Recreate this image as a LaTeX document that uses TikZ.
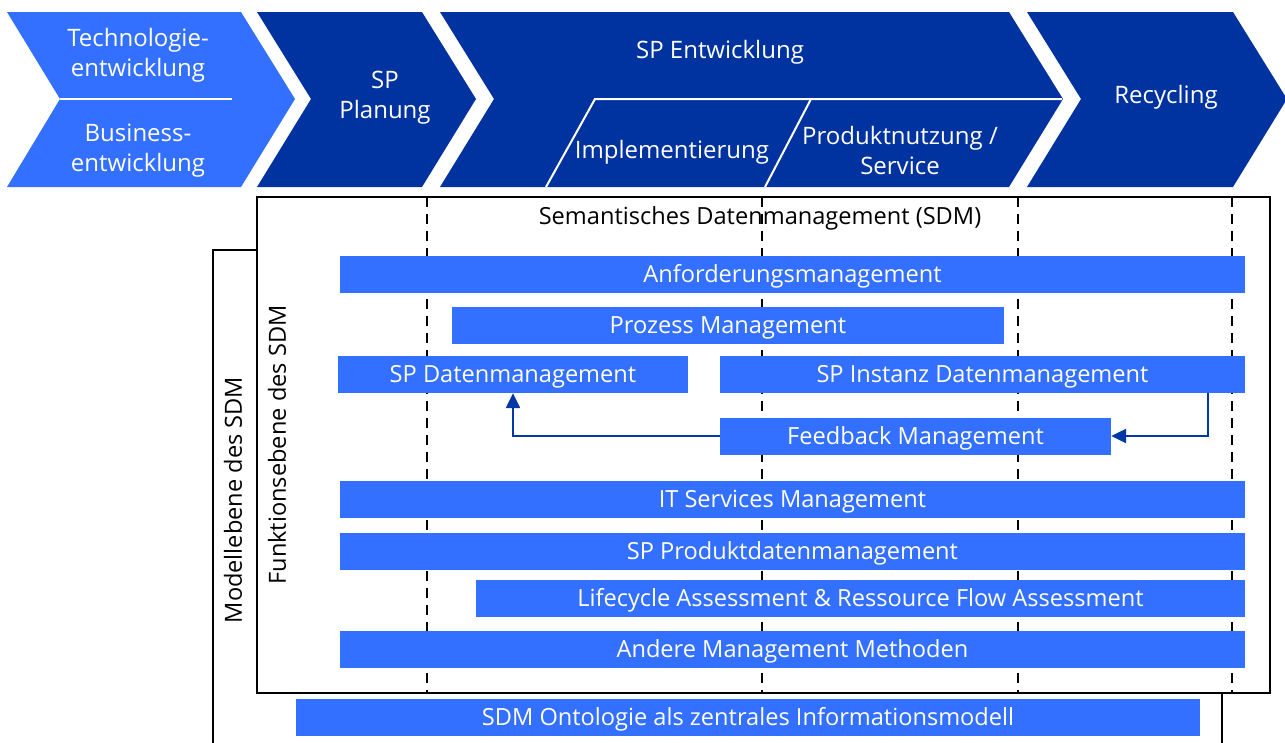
\documentclass[tikz,border=0pt]{standalone}
\usepackage{fontspec}
\usetikzlibrary{arrows.meta}
\setmainfont{Open Sans}
\definecolor{phaseblue}{HTML}{0033A0}
\definecolor{barblue}{HTML}{3370FF}
\definecolor{flowblue}{HTML}{0039A6}
\begin{document}
\begin{tikzpicture}[x=1pt,y=-1pt,
    phase/.style={text=white, align=center, font=\fontsize{24}{30}\selectfont},
    bar/.style={fill=barblue, text=white, minimum height=37pt, inner sep=0pt, text height=16.8pt, text depth=0pt, font=\fontsize{23.6}{28}\selectfont},
    label/.style={font=\fontsize{23.6}{28}\selectfont},
    frame/.style={line width=2.2pt},
    flow/.style={draw=flowblue, line width=2.4pt, ->, >={Triangle[length=15pt,width=14pt]}}]
  \useasboundingbox (0,0) rectangle (1285,742);
  % phases
  \fill[barblue] (7,12) -- (241,12) -- (295,99) -- (241,187) -- (7,187) -- (60,99) -- cycle;
  \draw[white, line width=2pt] (60,99) -- (232,99);
  \fill[phaseblue] (257,12) -- (422,12) -- (476,99) -- (422,187) -- (257,187) -- (311,99) -- cycle;
  \fill[phaseblue] (440,12) -- (1009,12) -- (1063,99) -- (1009,187) -- (440,187) -- (494,99) -- cycle;
  \fill[phaseblue] (1027,12) -- (1233,12) -- (1287,99) -- (1233,187) -- (1027,187) -- (1081,99) -- cycle;
  \draw[white, line width=2pt] (546,187) -- (595,99) -- (1062,99);
  \draw[white, line width=2pt] (765,187) -- (811,99);
  \node[phase] (tech) at (138,55) {Technologie-\\entwicklung};
  \node[phase] (bus) at (138,151) {Business-\\entwicklung};
  \node[phase] (plan) at (385,98) {SP\\Planung};
  \node[phase] (entw) at (720,52) {SP Entwicklung};
  \node[phase] (impl) at (672,152) {Implementierung};
  \node[phase] (nutz) at (900,150) {Produktnutzung /\\Service};
  \node[phase] (recy) at (1166,97) {Recycling};
  % SDM
  \node[label] (sdm) at (760,218) {Semantisches Datenmanagement (SDM)};
  \foreach \x in {427,762,1018,1232}
    \draw[line width=1.5pt, dash pattern=on 10pt off 7pt] (\x,197) -- (\x,693);
  \draw[frame] (257,197) rectangle (1270,693);
  \draw[frame] (213,745) -- (213,250) -- (257,250);
  \draw[frame] (1222,693) -- (1222,745);
  \node[label, rotate=90] (mod) at (233,500) {Modellebene des SDM};
  \node[label, rotate=90] (fkt) at (277,445) {Funktionsebene des SDM};
  % bars
  \node[bar, minimum width=905pt] (anf) at (792.5,274.5) {Anforderungsmanagement};
  \node[bar, minimum width=552pt] (proz) at (728,325) {Prozess Management};
  \node[bar, minimum width=350pt] (spd) at (513,374.5) {SP Datenmanagement};
  \node[bar, minimum width=525pt] (spi) at (982.5,374.5) {SP Instanz Datenmanagement};
  \node[bar, minimum width=391pt] (fb) at (915.5,436) {Feedback Management};
  \node[bar, minimum width=905pt] (its) at (792.5,499.5) {IT Services Management};
  \node[bar, minimum width=905pt] (pdm) at (792.5,551.5) {SP Produktdatenmanagement};
  \node[bar, minimum width=769pt] (lca) at (860.5,598.5) {Lifecycle Assessment \& Ressource Flow Assessment};
  \node[bar, minimum width=905pt] (amm) at (792.5,649.5) {Andere Management Methoden};
  \node[bar, minimum width=904pt] (ont) at (748,717.5) {SDM Ontologie als zentrales Informationsmodell};
  % feedback
  \draw[flow] ([xshift=-37pt]spi.south east) |- (fb.east);
  \draw[flow] (fb.west) -| (spd.south);
\end{tikzpicture}
\end{document}
